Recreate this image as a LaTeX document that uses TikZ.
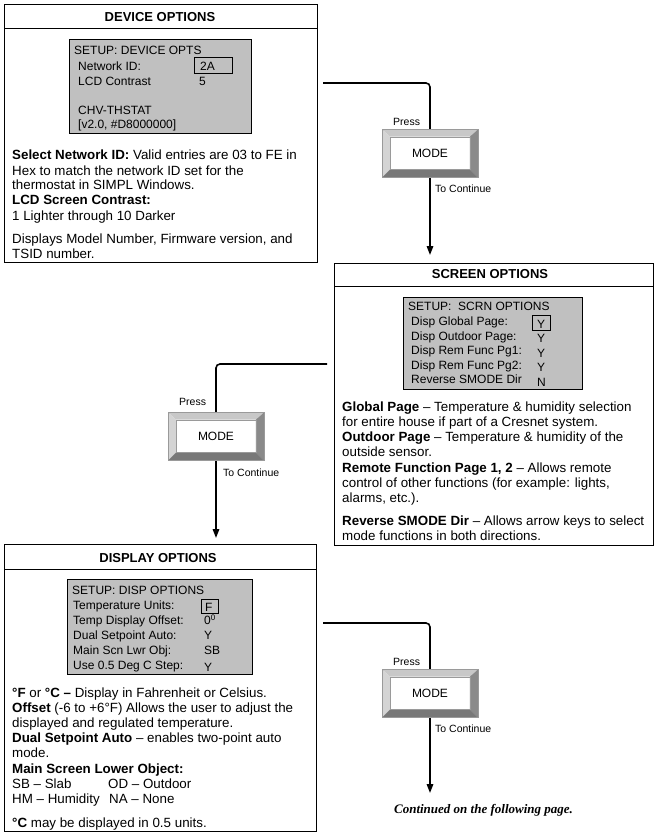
\documentclass[tikz,border=0pt]{standalone}
\usepackage{fontspec}
\setmainfont{Liberation Sans}
\newfontfamily\serifbi{Liberation Serif}
\usetikzlibrary{arrows.meta}
\definecolor{lcdgray}{HTML}{C0C0C0}
\definecolor{bvtop}{HTML}{C8C8C8}
\definecolor{bvleft}{HTML}{D4D4D4}
\definecolor{bvright}{HTML}{8A8A8A}
\definecolor{bvbot}{HTML}{787878}
\definecolor{bvline}{HTML}{9A9A9A}
\tikzset{
  txt/.style={anchor=base west, inner sep=0pt, font=\fontsize{13.35}{15}\selectfont},
  lcd/.style={anchor=base west, inner sep=0pt, font=\fontsize{12}{14}\selectfont},
  ttl/.style={anchor=base, inner sep=0pt, font=\fontsize{13}{15}\selectfont\bfseries},
  small/.style={anchor=base west, inner sep=0pt, font=\fontsize{10.5}{12}\selectfont},
  frame/.style={draw, line width=1pt, inner sep=0pt, anchor=north west},
  lcdbox/.style={draw, fill=lcdgray, line width=1.2pt, inner sep=0pt, anchor=north west},
  valbox/.style={draw, line width=1.2pt, inner sep=0pt, anchor=north west},
  modebtn/.style={rectangle, draw=bvline, line width=0.6pt, fill=white, inner sep=0pt,
    minimum width=95pt, minimum height=47pt},
  modetxt/.style={inner sep=0pt, font=\fontsize{12}{14}\selectfont},
  conn/.style={line width=1.6pt, rounded corners=4pt},
  arr/.style={-{Triangle[length=9pt,width=6.5pt]}}
}
\newcommand\bevelbtn[1]{%
  \fill[bvtop] (#1.north west) -- (#1.north east) -- ([shift={(-8,7)}]#1.north east) -- ([shift={(8,7)}]#1.north west) -- cycle;
  \fill[bvleft] (#1.north west) -- ([shift={(8,7)}]#1.north west) -- ([shift={(8,-8)}]#1.south west) -- (#1.south west) -- cycle;
  \fill[bvright] (#1.north east) -- (#1.south east) -- ([shift={(-8,-8)}]#1.south east) -- ([shift={(-8,7)}]#1.north east) -- cycle;
  \fill[bvbot] (#1.south west) -- ([shift={(8,-8)}]#1.south west) -- ([shift={(-8,-8)}]#1.south east) -- (#1.south east) -- cycle;
  \draw[bvline, line width=0.6pt] (#1.north west) rectangle (#1.south east);
  \draw[bvline, line width=0.4pt] ([shift={(8,7)}]#1.north west) rectangle ([shift={(-8,-8)}]#1.south east);
}
\begin{document}
\begin{tikzpicture}[x=1pt,y=-1pt]
\useasboundingbox (0,0) rectangle (660,836);

% ---------- frames ----------
\node[frame, minimum width=313pt, minimum height=258pt] (dev) at (4,4) {};
\node[frame, minimum width=319pt, minimum height=282pt] (scr) at (334,263) {};
\node[frame, minimum width=312pt, minimum height=287pt] (disp) at (4,544) {};
\draw[line width=1pt] (dev.west |- 0,28) -- (dev.east |- 0,28);
\draw[line width=1pt] (scr.west |- 0,286) -- (scr.east |- 0,286);
\draw[line width=1pt] (disp.west |- 0,569) -- (disp.east |- 0,569);
\node[ttl] (devt) at (160,21) {DEVICE OPTIONS};
\node[ttl] (scrt) at (490,278) {SCREEN OPTIONS};
\node[ttl] (dispt) at (158,562) {DISPLAY OPTIONS};

% ---------- device LCD ----------
\node[lcdbox, minimum width=182pt, minimum height=94pt] (devlcd) at (69,39) {};
\node[valbox, minimum width=38pt, minimum height=16pt] (devv) at (194,57) {};
\node[lcd] (d1) at (74,54) {SETUP: DEVICE OPTS};
\node[lcd] (d2) at (78,70) {Network ID:};
\node[lcd] (d2v) at (200,70) {2A};
\node[lcd] (d3) at (78,85) {LCD Contrast};
\node[lcd] (d3v) at (199,85) {5};
\node[lcd] (d4) at (78,114) {CHV-THSTAT};
\node[lcd] (d5) at (78,128) {[v2.0, \#D8000000]};

\node[txt] (dt1) at (12,159) {\textbf{Select Network ID:} Valid entries are 03 to FE in};
\node[txt] (dt2) at (12,175) {Hex to match the network ID set for the};
\node[txt] (dt3) at (12,189) {thermostat in SIMPL Windows.};
\node[txt] (dt4) at (12,204) {\textbf{LCD Screen Contrast:}};
\node[txt] (dt5) at (12,220) {1 Lighter through 10 Darker};
\node[txt] (dt6) at (12,243) {Displays Model Number, Firmware version, and};
\node[txt] (dt7) at (12,258) {TSID number.};

% ---------- screen LCD ----------
\node[lcdbox, minimum width=179pt, minimum height=92pt] (scrlcd) at (403,297) {};
\node[valbox, minimum width=18pt, minimum height=15pt] (scrv) at (532,315) {};
\node[lcd] (s1) at (408,310) {SETUP:\ \ SCRN OPTIONS};
\node[lcd] (s2) at (411,325) {Disp Global Page:};
\node[lcd] (s2v) at (537,328) {Y};
\node[lcd] (s3) at (411,340) {Disp Outdoor Page:};
\node[lcd] (s3v) at (537,342) {Y};
\node[lcd] (s4) at (411,354) {Disp Rem Func Pg1:};
\node[lcd] (s4v) at (537,357) {Y};
\node[lcd] (s5) at (411,369) {Disp Rem Func Pg2:};
\node[lcd] (s5v) at (537,371) {Y};
\node[lcd] (s6) at (411,383) {Reverse SMODE Dir};
\node[lcd] (s6v) at (537,386) {N};

\node[txt] (st1) at (342,411) {\textbf{Global Page} -- Temperature \& humidity selection};
\node[txt] (st2) at (342,426) {for entire house if part of a Cresnet system.};
\node[txt] (st3) at (342,441) {\textbf{Outdoor Page} -- Temperature \& humidity of the};
\node[txt] (st4) at (342,456) {outside sensor.};
\node[txt] (st5) at (342,472) {\textbf{Remote Function Page 1, 2} -- Allows remote};
\node[txt] (st6) at (342,487) {control of other functions (for example: lights,};
\node[txt] (st7) at (342,502) {alarms, etc.).};
\node[txt] (st8) at (342,525) {\textbf{Reverse SMODE Dir} -- Allows arrow keys to select};
\node[txt] (st9) at (342,540) {mode functions in both directions.};

% ---------- display LCD ----------
\node[lcdbox, minimum width=185pt, minimum height=95pt] (displcd) at (67,579) {};
\node[valbox, minimum width=17pt, minimum height=14pt] (dispv) at (201,599) {};
\node[lcd] (p1) at (72,594) {SETUP: DISP OPTIONS};
\node[lcd] (p2) at (73,609) {Temperature Units:};
\node[lcd] (p2v) at (205,611) {F};
\node[lcd] (p3) at (73,624) {Temp Display Offset:};
\node[lcd] (p3v) at (204,624) {0\raisebox{0.6ex}{\fontsize{8}{9}\selectfont 0}};
\node[lcd] (p4) at (73,639) {Dual Setpoint Auto:};
\node[lcd] (p4v) at (204,639) {Y};
\node[lcd] (p5) at (73,654) {Main Scn Lwr Obj:};
\node[lcd] (p5v) at (204,654) {SB};
\node[lcd] (p6) at (73,669) {Use 0.5 Deg C Step:};
\node[lcd] (p6v) at (204,671) {Y};

\node[txt] (pt1) at (12,697) {\textbf{°F} or \textbf{°C --} Display in Fahrenheit or Celsius.};
\node[txt] (pt2) at (12,712) {\textbf{Offset} (-6 to +6°F) Allows the user to adjust the};
\node[txt] (pt3) at (12,727) {displayed and regulated temperature.};
\node[txt] (pt4) at (12,742) {\textbf{Dual Setpoint Auto} -- enables two-point auto};
\node[txt] (pt5) at (12,757) {mode.};
\node[txt] (pt6) at (12,773) {\textbf{Main Screen Lower Object:}};
\node[txt] (pt7) at (12,788) {SB -- Slab};
\node[txt] (pt7b) at (108,788) {OD -- Outdoor};
\node[txt] (pt8) at (12,803) {HM -- Humidity};
\node[txt] (pt8b) at (109,803) {NA -- None};
\node[txt] (pt9) at (12,827) {\textbf{°C} may be displayed in 0.5 units.};

% ---------- connectors ----------
\coordinate (c1) at (323,83);
\coordinate (c2) at (327,364);
\coordinate (c3) at (323,623);
\coordinate (e3) at (430,793);
\node[modebtn] (m1) at (430,153.5) {};
\node[modebtn] (m2) at (216,436.5) {};
\node[modebtn] (m3) at (430,693.5) {};

\draw[conn] (c1) -| (m1.north);
\draw[conn, arr, shorten >=8pt] (m1.south) -- (m1.south |- scr.north);
\draw[conn] (c2) -| (m2.north);
\draw[conn, arr, shorten >=6pt] (m2.south) -- (m2.south |- disp.north);
\draw[conn] (c3) -| (m3.north);
\draw[conn, arr] (m3.south) -- (e3);

\bevelbtn{m1}
\bevelbtn{m2}
\bevelbtn{m3}
\node[modetxt] (m1t) at (m1.center) {MODE};
\node[modetxt] (m2t) at (m2.center) {MODE};
\node[modetxt] (m3t) at (m3.center) {MODE};

\node[small] (pr1) at (393,125) {Press};
\node[small] (tc1) at (435,192) {To Continue};
\node[small] (pr2) at (179,405) {Press};
\node[small] (tc2) at (223,476) {To Continue};
\node[small] (pr3) at (393,665) {Press};
\node[small] (tc3) at (435,732) {To Continue};

\node[anchor=base, inner sep=0pt, font=\serifbi\fontsize{13}{15}\selectfont\bfseries\itshape] (cont) at (483.5,813) {Continued on the following page.};
\end{tikzpicture}
\end{document}
